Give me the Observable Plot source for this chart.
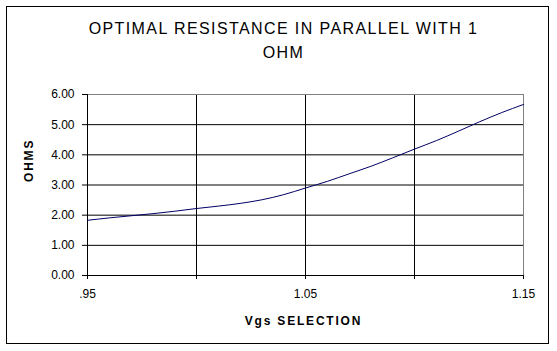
<!DOCTYPE html>
<html>
<head>
<meta charset="utf-8">
<script src="https://cdn.jsdelivr.net/npm/d3@7"></script>
<script src="https://cdn.jsdelivr.net/npm/@observablehq/plot@0.6"></script>
<style>
  html, body { margin: 0; padding: 0; background: #fff; }
  #wrap { position: relative; width: 557px; height: 351px; font-family: "Liberation Sans", Arial, sans-serif; }
  #border { position: absolute; left: 6px; top: 6px; width: 541px; height: 336px; border: 1.5px solid #000; box-sizing: content-box; }
  #title { position: absolute; left: 12px; width: 543px; top: 17px; text-align: center; font-size: 16px; letter-spacing: 1.4px; line-height: 24px; color: #000; }
  #chart { position: absolute; left: 0; top: 0; }
</style>
</head>
<body>
<div id="wrap">
  <div id="border"></div>
  <div id="title">OPTIMAL RESISTANCE IN PARALLEL WITH 1<br>OHM</div>
  <div id="chart"></div>
</div>
<script>
const vgs = [0.95, 0.96, 0.97, 0.98, 0.99, 1.00, 1.01, 1.02, 1.03, 1.04, 1.05, 1.06, 1.07, 1.08, 1.09, 1.10, 1.11, 1.12, 1.13, 1.14, 1.15];
const ohms = [1.83, 1.91, 1.98, 2.05, 2.13, 2.22, 2.30, 2.39, 2.51, 2.68, 2.90, 3.12, 3.37, 3.62, 3.90, 4.19, 4.47, 4.78, 5.10, 5.40, 5.67];
const xTicks = [0.95, 1.00, 1.05, 1.10, 1.15];
const xTickLabels = [".95", "", "1.05", "", "1.15"];
const yTicks = [0, 1, 2, 3, 4, 5, 6];
const title = "OPTIMAL RESISTANCE IN PARALLEL WITH 1 OHM";
const xLabel = "Vgs SELECTION";
const yLabel = "OHMS";

const data = vgs.map((v, i) => ({x: v, y: ohms[i]}));
const font = '"Liberation Sans", Arial, sans-serif';

const chart = Plot.plot({
  width: 557,
  height: 351,
  marginLeft: 87,
  marginRight: 34,
  marginTop: 94,
  marginBottom: 76,
  style: {fontFamily: font, fontSize: "12px", background: "transparent", color: "#000"},
  x: {domain: [0.95, 1.15]},
  y: {domain: [0, 6]},
  marks: [
    Plot.ruleX(xTicks.slice(1, -1), {stroke: "#000", strokeWidth: 1}),
    Plot.ruleY(yTicks.slice(1, -1), {stroke: "#000", strokeWidth: 1}),
    Plot.ruleY([6], {stroke: "#808080", strokeWidth: 1}),
    Plot.ruleX([1.15], {stroke: "#808080", strokeWidth: 1}),
    Plot.ruleY([0], {stroke: "#000", strokeWidth: 1}),
    Plot.ruleX([0.95], {stroke: "#000", strokeWidth: 1}),
    Plot.axisX({ticks: xTicks, tickSize: 4, tickPadding: 10, tickFormat: (d) => xTickLabels[xTicks.findIndex(t => Math.abs(t - d) < 1e-9)], label: null, stroke: "#000", fill: "#000"}),
    Plot.axisY({ticks: yTicks, tickSize: 5, tickPadding: 8, tickFormat: (d) => d.toFixed(2), label: null, stroke: "#000", fill: "#000"}),
    Plot.line(data, {x: "x", y: "y", stroke: "#000066", strokeWidth: 1, curve: "monotone-x"}),
    Plot.text([yLabel], {frameAnchor: "left", dx: -58, dy: -3, rotate: -90, fontWeight: "bold", fontSize: 12, fill: "#000", text: d => d}),
    Plot.text([xLabel], {frameAnchor: "bottom", dy: 46, dx: -2, lineAnchor: "middle", fontWeight: "bold", fontSize: 12, fill: "#000", text: d => d})
  ]
});
d3.select(chart).selectAll("text").filter(function() { return this.textContent === xLabel || this.textContent === yLabel; }).style("letter-spacing", "1.8px");
document.getElementById("chart").appendChild(chart);
</script>
</body>
</html>
